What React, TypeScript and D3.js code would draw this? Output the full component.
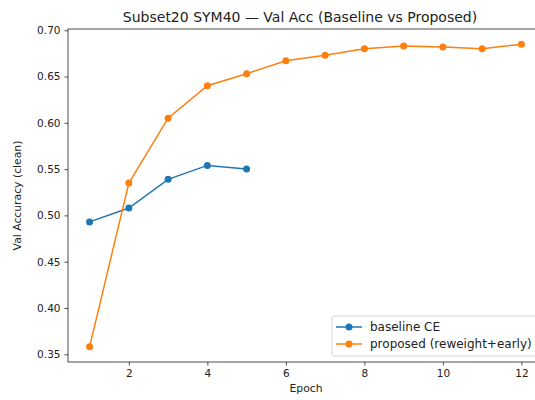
import React, { useRef, useEffect } from "react";
import * as d3 from "d3";

const WIDTH = 535;
const HEIGHT = 400;
// plot frame; right spine sits past the picture edge, as in the reference
const MARGIN = { top: 29, right: -8, bottom: 38, left: 68 };

const EPOCHS_BASE = [1, 2, 3, 4, 5];
const BASELINE = [0.493, 0.508, 0.539, 0.554, 0.55];
const EPOCHS_PROP = [1, 2, 3, 4, 5, 6, 7, 8, 9, 10, 11, 12];
const PROPOSED = [0.358, 0.535, 0.605, 0.64, 0.653, 0.667, 0.673, 0.68, 0.683, 0.682, 0.68, 0.685];
const X_TICKS = [2, 4, 6, 8, 10, 12];
const Y_TICKS = [0.35, 0.4, 0.45, 0.5, 0.55, 0.6, 0.65, 0.7];

const BLUE = "#1f77b4";
const ORANGE = "#ff7f0e";
const FONT = "DejaVu Sans, sans-serif";

export default function App() {
  const svgRef = useRef<SVGSVGElement>(null);

  useEffect(() => {
    const svg = d3.select(svgRef.current);
    svg.selectAll("*").remove();

    const innerWidth = WIDTH - MARGIN.left - MARGIN.right;
    const innerHeight = HEIGHT - MARGIN.top - MARGIN.bottom;

    const g = svg
      .append("g")
      .attr("transform", `translate(${MARGIN.left},${MARGIN.top})`);

    // matplotlib-style 5% padding around the data
    const xPad = (12 - 1) * 0.05;
    const xScale = d3.scaleLinear().domain([1 - xPad, 12 + xPad]).range([0, innerWidth]);
    const all = [...BASELINE, ...PROPOSED];
    const yMin = d3.min(all)!;
    const yMax = d3.max(all)!;
    const yPad = (yMax - yMin) * 0.05;
    const yScale = d3.scaleLinear().domain([yMin - yPad, yMax + yPad]).range([innerHeight, 0]);

    // frame
    g.append("rect")
      .attr("width", innerWidth)
      .attr("height", innerHeight)
      .attr("fill", "none")
      .attr("stroke", "#222")
      .attr("stroke-width", 0.8);

    // X axis
    const xAxisG = g
      .append("g")
      .attr("transform", `translate(0,${innerHeight})`)
      .call(d3.axisBottom(xScale).tickValues(X_TICKS).tickSize(3.5).tickPadding(4).tickFormat(d3.format("d")));
    xAxisG.select(".domain").remove();
    xAxisG.selectAll("line").attr("stroke", "#222").attr("stroke-width", 0.8);
    xAxisG.selectAll("text").attr("font-size", 10.5).attr("font-family", FONT).attr("fill", "#222");

    // Y axis
    const yAxisG = g
      .append("g")
      .call(d3.axisLeft(yScale).tickValues(Y_TICKS).tickSize(3.5).tickPadding(4).tickFormat(d3.format(".2f")));
    yAxisG.select(".domain").remove();
    yAxisG.selectAll("line").attr("stroke", "#222").attr("stroke-width", 0.8);
    yAxisG.selectAll("text").attr("font-size", 10.5).attr("font-family", FONT).attr("fill", "#222");

    const series = [
      { name: "baseline CE", xs: EPOCHS_BASE, ys: BASELINE, color: BLUE },
      { name: "proposed (reweight+early)", xs: EPOCHS_PROP, ys: PROPOSED, color: ORANGE },
    ];

    const line = d3
      .line<[number, number]>()
      .x((d) => xScale(d[0]))
      .y((d) => yScale(d[1]));

    series.forEach((s) => {
      const pts = s.xs.map((x, i) => [x, s.ys[i]] as [number, number]);
      g.append("path")
        .datum(pts)
        .attr("fill", "none")
        .attr("stroke", s.color)
        .attr("stroke-width", 1.5)
        .attr("d", line);
      g.selectAll(null)
        .data(pts)
        .join("circle")
        .attr("cx", (d) => xScale(d[0]))
        .attr("cy", (d) => yScale(d[1]))
        .attr("r", 3.5)
        .attr("fill", s.color);
    });

    // Title
    svg.append("text")
      .attr("x", 300)
      .attr("y", 22)
      .attr("text-anchor", "middle")
      .attr("font-size", 14)
      .attr("font-family", FONT)
      .attr("fill", "#222")
      .text("Subset20 SYM40 — Val Acc (Baseline vs Proposed)");

    // Axis labels
    svg.append("text")
      .attr("x", 306)
      .attr("y", 392)
      .attr("text-anchor", "middle")
      .attr("font-size", 10.8)
      .attr("font-family", FONT)
      .attr("fill", "#222")
      .text("Epoch");

    svg.append("text")
      .attr("transform", `translate(21,${MARGIN.top + innerHeight / 2}) rotate(-90)`)
      .attr("text-anchor", "middle")
      .attr("font-size", 10.8)
      .attr("font-family", FONT)
      .attr("fill", "#222")
      .text("Val Accuracy (clean)");

    // Legend
    const lg = svg.append("g").attr("transform", "translate(332,316)");
    lg.append("rect")
      .attr("width", 215)
      .attr("height", 40)
      .attr("rx", 2)
      .attr("fill", "#fff")
      .attr("fill-opacity", 0.8)
      .attr("stroke", "#ccc")
      .attr("stroke-width", 0.8);
    series.forEach((s, i) => {
      const y = 11 + i * 17;
      lg.append("line")
        .attr("x1", 4)
        .attr("x2", 30)
        .attr("y1", y)
        .attr("y2", y)
        .attr("stroke", s.color)
        .attr("stroke-width", 1.5);
      lg.append("circle").attr("cx", 17).attr("cy", y).attr("r", 3.5).attr("fill", s.color);
      lg.append("text")
        .attr("x", 38)
        .attr("y", y + 4)
        .attr("font-size", 12)
        .attr("font-family", FONT)
        .attr("fill", "#222")
        .text(s.name);
    });
  }, []);

  return (
    <svg
      ref={svgRef}
      width={WIDTH}
      height={HEIGHT}
      style={{ position: "absolute", left: 0, top: 0, background: "#fff" }}
    />
  );
}
